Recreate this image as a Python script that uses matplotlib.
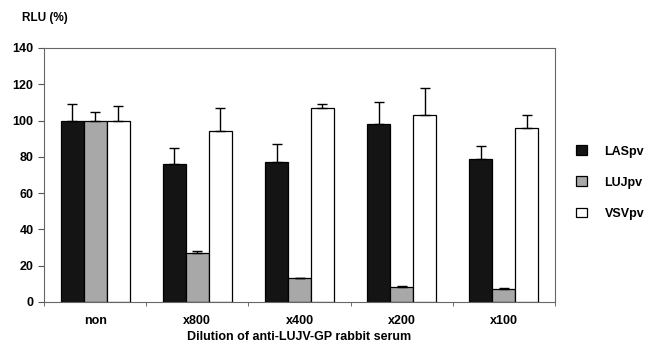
import matplotlib.pyplot as plt
import numpy as np

plt.rcParams['font.family'] = ['Liberation Sans', 'DejaVu Sans']
plt.rcParams['font.weight'] = 'bold'

# values (%)
groups = ['non', 'x800', 'x400', 'x200', 'x100']
las = [100, 76, 77, 98, 79]
las_top = [109, 85, 87, 110, 86]
luj = [100, 27, 13, 8, 7]
luj_top = [105, 28, 13.5, 9, 7.5]
vsv = [100, 94, 107, 103, 96]
vsv_top = [108, 107, 109, 118, 103]

series = [('LASpv', las, las_top, '#141414'),
          ('LUJpv', luj, luj_top, '#a8a8a8'),
          ('VSVpv', vsv, vsv_top, 'white')]

fig = plt.figure(figsize=(6.47, 3.48), dpi=100)
ax = fig.add_axes([44 / 647, 46 / 348, 511 / 647, 254 / 348])

x = np.arange(len(groups))
w = 0.225
for i, (name, vals, tops, col) in enumerate(series):
    vals = np.array(vals)
    err = np.array(tops) - vals
    ax.bar(x + (i - 1) * w, vals, w, color=col, edgecolor='black', linewidth=0.9,
           label=name, zorder=2)
    ax.errorbar(x + (i - 1) * w, vals, yerr=[np.zeros_like(err), err], fmt='none',
                ecolor='black', elinewidth=1.0, capsize=3.5, capthick=1.0, zorder=3)

ax.set_xlim(-0.5, len(groups) - 0.5)
ax.set_ylim(0, 140)
ax.set_yticks(range(0, 141, 20))
ax.set_xticks(x)
ax.set_xticklabels(groups, fontsize=9, fontweight='bold')
ax.set_xticks(np.arange(-0.5, len(groups), 1), minor=True)
ax.tick_params(axis='x', which='major', length=0, pad=9)
ax.tick_params(axis='x', which='minor', length=3, direction='out', color='#555555')
ax.tick_params(axis='y', length=4, direction='out', labelsize=9, color='#555555')
for lab in ax.get_yticklabels():
    lab.set_fontweight('bold')
for s in ax.spines.values():
    s.set_color('#666666')
    s.set_linewidth(0.8)

ax.set_xlabel('Dilution of anti-LUJV-GP rabbit serum', fontsize=9, fontweight='bold', labelpad=3)
fig.text(22 / 647, 1 - 18 / 348, 'RLU (%)', fontsize=8.5, fontweight='bold', va='center')

ax.legend(loc='center left', bbox_to_anchor=(1.02, 0.47), frameon=False, fontsize=9,
          handlelength=0.85, handleheight=0.85, labelspacing=1.5, handletextpad=1.4)

fig.savefig('out.png', dpi=100)
